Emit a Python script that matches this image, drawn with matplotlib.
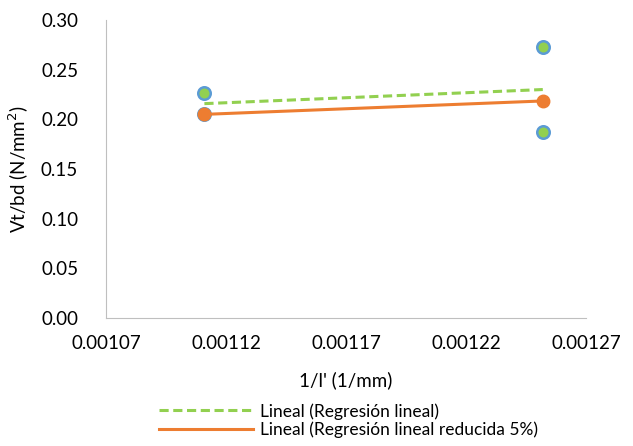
import matplotlib.pyplot as plt

plt.rcParams['font.family'] = ['Lato', 'DejaVu Sans']

# Measured data points
x_data = [0.001111, 0.001111, 0.001252, 0.001252]
y_data = [0.2265, 0.2050, 0.2730, 0.1870]

# Trendline end values
x_trend = [0.001111, 0.001252]
y_lineal = [0.2158, 0.2300]
y_reducida = [0.2050, 0.2185]

x_ticks = [0.00107, 0.00112, 0.00117, 0.00122, 0.00127]
y_ticks = [0.00, 0.05, 0.10, 0.15, 0.20, 0.25, 0.30]

fig = plt.figure(figsize=(6.33, 4.46), dpi=100)
ax = fig.add_axes([106 / 633, 128 / 446, 480 / 633, 298 / 446])

ax.plot(x_data, y_data, 'o', color='#92D050', markeredgecolor='#5B9BD5',
        markeredgewidth=1.8, markersize=9, zorder=3)
ax.plot(x_trend, y_reducida, '-o', color='#ED7D31', linewidth=2.2,
        markersize=9, zorder=4, label='Lineal (Regresión lineal reducida 5%)')
ax.plot(x_trend, y_lineal, '--', color='#92D050', linewidth=2.2,
        dashes=(3, 1.5), zorder=5, label='Lineal (Regresión lineal)')

ax.set_xlim(0.00107, 0.00127)
ax.set_ylim(0, 0.30)
ax.set_xticks(x_ticks)
ax.set_xticklabels([f"{t:.5f}" for t in x_ticks])
ax.set_yticks(y_ticks)
ax.set_yticklabels([f"{t:.2f}" for t in y_ticks])
ax.tick_params(axis='y', length=0, labelsize=13.5, pad=20, colors='#000000')
ax.tick_params(axis='x', length=0, labelsize=13.5, pad=12, colors='#000000')

for s in ['top', 'right']:
    ax.spines[s].set_visible(False)
for s in ['left', 'bottom']:
    ax.spines[s].set_color('#BFBFBF')

ax.set_xlabel("1/l' (1/mm)", fontsize=13.5, labelpad=14)
ax.set_ylabel("Vt/bd (N/mm$^2$)", fontsize=13.5, labelpad=7)

handles, labels = ax.get_legend_handles_labels()
leg = fig.legend(handles[::-1], labels[::-1], loc='upper left',
                 bbox_to_anchor=(152 / 633, 1 - 396 / 446), frameon=False,
                 fontsize=12.5, handlelength=5.4, handletextpad=0.4,
                 labelspacing=0.1, borderaxespad=0)
for h in leg.legend_handles:
    h.set_marker('')

fig.savefig('out.png', dpi=100)
